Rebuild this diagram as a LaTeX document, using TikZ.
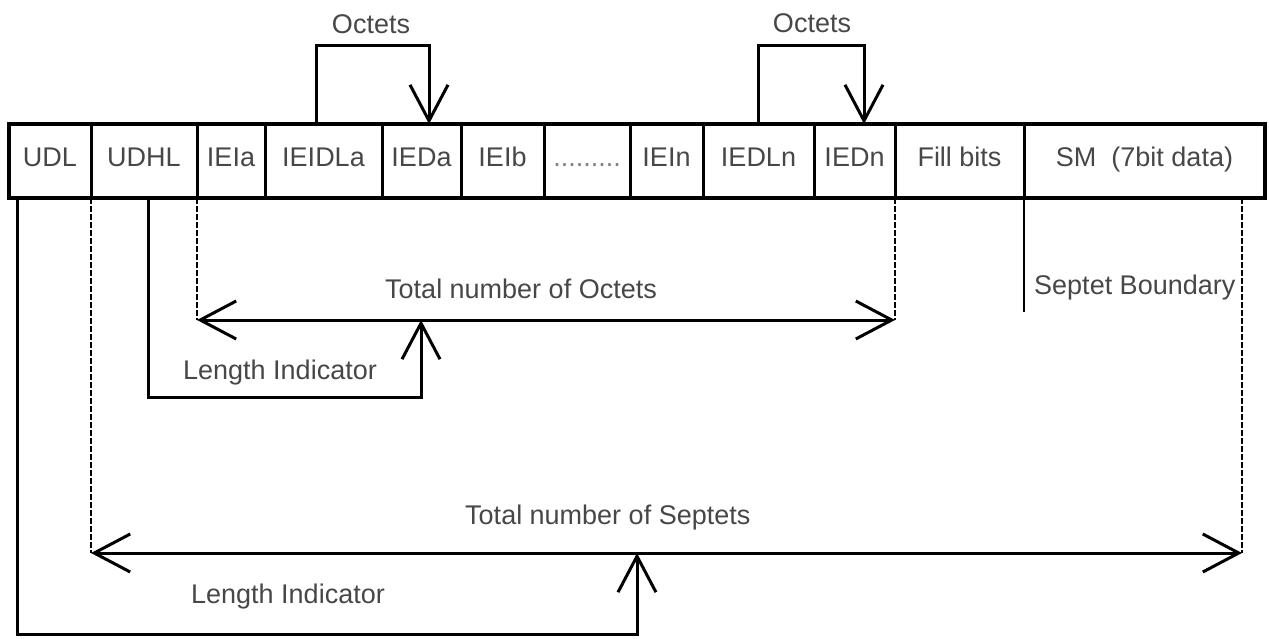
\documentclass[tikz,border=0pt]{standalone}
\usepackage{fontspec}
\setmainfont{Liberation Sans}
\usetikzlibrary{arrows.meta}
\definecolor{txtgray}{gray}{0.28}
\begin{document}
\begin{tikzpicture}[x=1pt,y=-1pt,
  font=\fontsize{27pt}{31pt}\selectfont,
  cell/.style={draw, line width=3pt, anchor=west, minimum height=74pt,
    inner sep=0pt, outer sep=0pt, text height=20pt, text depth=10pt, text=txtgray},
  lbl/.style={text=txtgray, inner sep=0pt},
  conn/.style={line width=3pt},
  guide/.style={line width=2pt, dash pattern=on 6pt off 2pt},
  openarrow/.style={-{Straight Barb[length=36pt,width=38pt]}},
  twoarrow/.style={{Straight Barb[length=36pt,width=38pt]}-{Straight Barb[length=36pt,width=38pt]}}]
\useasboundingbox (0,0) rectangle (1269,638);

% message fields
\node[cell, minimum width=82pt]  (udl)   at (9,161)     {UDL};
\node[cell, minimum width=106pt] (udhl)  at (udl.east)  {UDHL};
\node[cell, minimum width=68pt]  (ieia)  at (udhl.east) {IEIa};
\node[cell, minimum width=117pt] (ieidla) at (ieia.east) {IEIDLa};
\node[cell, minimum width=79pt]  (ieda)  at (ieidla.east) {IEDa};
\node[cell, minimum width=83pt]  (ieib)  at (ieda.east) {IEIb};
\node[cell, minimum width=86pt, text=txtgray!70] (dots) at (ieib.east) {.........};
\node[cell, minimum width=73pt]  (iein)  at (dots.east) {IEIn};
\node[cell, minimum width=111pt] (iedln) at (iein.east) {IEDLn};
\node[cell, minimum width=81pt]  (iedn)  at (iedln.east) {IEDn};
\node[cell, minimum width=129pt] (fill)  at (iedn.east) {Fill bits};
\node[cell, minimum width=241pt] (sm)    at (fill.east) {SM~~(7bit data)};
\draw[line width=4pt] (udl.north west) rectangle (sm.south east);

% labels
\node[lbl] (oct1) at (371,24) {Octets};
\node[lbl] (oct2) at (812,23) {Octets};
\node[lbl, anchor=west] (totoct) at (385,289) {Total number of Octets};
\node[lbl] (len1) at (280,373) {Length Indicator};
\node[lbl, anchor=west] (septb) at (1034,288) {Septet Boundary};
\node[lbl, anchor=west] (totsep) at (465,518) {Total number of Septets};
\node[lbl] (len2) at (288,597) {Length Indicator};

% octet length brackets above the fields
\draw[conn, openarrow] ([xshift=-7.5pt]ieidla.north) -- ++(0,-79) -| ([xshift=7.5pt]ieda.north);
\draw[conn, openarrow] (iedln.north) -- ++(0,-79) -| ([xshift=9.5pt]iedn.north);

% helper points
\coordinate (octL) at (ieia.south west |- 0,320);
\coordinate (octR) at (iedn.south east |- 0,320);
\coordinate (octUp) at (421,320);
\path ([xshift=-23pt]sm.south east) coordinate (smGuide);
\coordinate (sepL) at (udhl.south west |- 0,553);
\coordinate (sepR) at (smGuide |- 0,553);
\coordinate (sepUp) at (637,553);
\coordinate (sbEnd) at (sm.south west |- 0,312);

% header length in octets
\draw[guide] (ieia.south west) -- (octL);
\draw[guide] (iedn.south east) -- (octR);
\draw[conn, twoarrow] (octL) -- (octR);
\draw[conn, openarrow] ([xshift=4pt]udhl.south) -- ++(0,199) -| (octUp);

% septet boundary
\draw[line width=2.5pt] (sm.south west) -- (sbEnd);

% user data length in septets
\draw[guide] (udhl.south west) -- (sepL);
\draw[guide] (smGuide) -- (sepR);
\draw[conn, twoarrow] (sepL) -- (sepR);
\draw[conn, openarrow] ([xshift=8pt]udl.south west) -- ++(0,436) -| (sepUp);
\end{tikzpicture}
\end{document}
